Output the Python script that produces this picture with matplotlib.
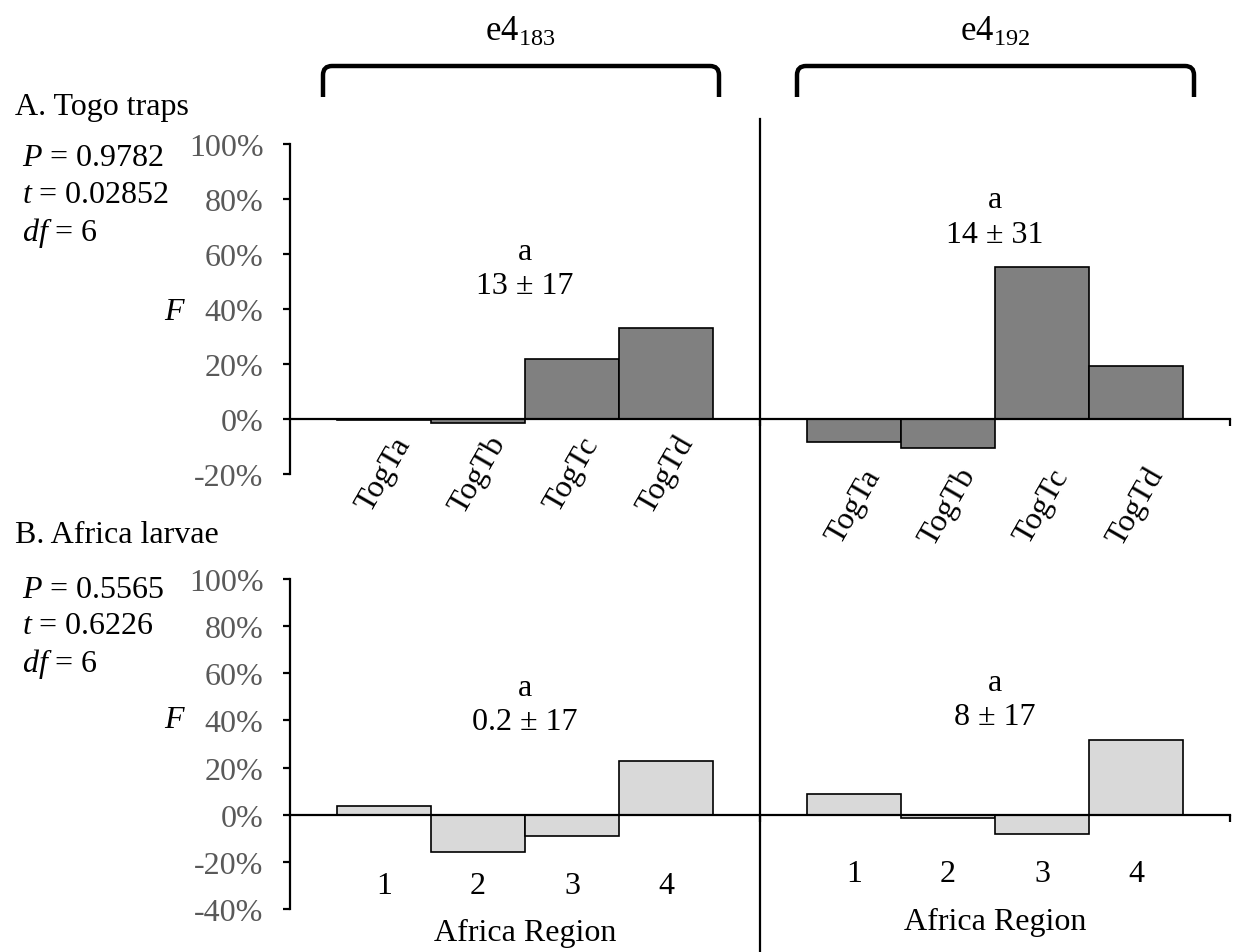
import numpy as np
import matplotlib
matplotlib.use('Agg')
import matplotlib.pyplot as plt
from matplotlib.path import Path
from matplotlib.patches import PathPatch
from matplotlib.lines import Line2D
from matplotlib.ticker import FuncFormatter

plt.rcParams['font.family'] = ['Liberation Serif', 'DejaVu Serif']
plt.rcParams['mathtext.fontset'] = 'custom'
plt.rcParams['mathtext.rm'] = 'Liberation Serif'
plt.rcParams['mathtext.it'] = 'Liberation Serif:italic'

# data (F, in %)
trap_labels = ['TogTa', 'TogTb', 'TogTc', 'TogTd']
trap_e4_183 = [-0.5, -1.5, 22.0, 33.0]
trap_e4_192 = [-8.5, -10.5, 55.3, 19.3]

region_labels = ['1', '2', '3', '4']
larvae_e4_183 = [3.5, -15.7, -8.9, 22.7]
larvae_e4_192 = [9.0, -1.3, -8.0, 31.5]

group_titles = ['183', '192']
trap_notes = ['13 ± 17', '14 ± 31']
larvae_notes = ['0.2 ± 17', '8 ± 17']
trap_stats = ['$P$ = 0.9782', '$t$ = 0.02852', '$df$ = 6']
larvae_stats = ['$P$ = 0.5565', '$t$ = 0.6226', '$df$ = 6']

W, H = 1238, 953
fig = plt.figure(figsize=(W / 100, H / 100), dpi=100)

def fx(x):
    return x / W

def fy(y):
    return 1 - y / H

FS = 23
GREY = '#595959'

left_pos = np.arange(len(trap_labels)) + 1
right_pos = np.arange(len(trap_labels)) + 6


def setup_axes(rect, ymin):
    ax = fig.add_axes(rect)
    ax.set_xlim(0, 10)
    ax.set_ylim(ymin, 100)
    for s in ['top', 'right']:
        ax.spines[s].set_visible(False)
    ax.spines['left'].set_linewidth(1.6)
    ax.spines['bottom'].set_linewidth(1.6)
    ax.spines['bottom'].set_position(('data', 0))
    ax.set_yticks(np.arange(ymin, 101, 20))
    ax.yaxis.set_major_formatter(FuncFormatter(lambda v, p: f'{int(v)}%'))
    ax.tick_params(axis='y', length=5, width=1.6, pad=14, labelsize=FS, labelcolor=GREY)
    ax.set_xticks([5, 10])
    ax.set_xticklabels([])
    ax.tick_params(axis='x', length=5, width=1.6, direction='out')
    ax.patch.set_alpha(0)
    return ax


# A. Togo traps
ax1 = setup_axes([fx(290), fy(475), fx(940), 330 / H], -20)
ax1.bar(left_pos, trap_e4_183, width=1.0, color='#808080', edgecolor='black', linewidth=1.2, zorder=1)
ax1.bar(right_pos, trap_e4_192, width=1.0, color='#808080', edgecolor='black', linewidth=1.2, zorder=1)
for x, lab in zip(left_pos, trap_labels):
    ax1.text(x, -20, lab, rotation=60, ha='center', va='center', fontsize=FS)
for x, lab in zip(right_pos, trap_labels):
    ax1.text(x, -31.5, lab, rotation=60, ha='center', va='center', fontsize=FS)
ax1.text(2.5, 61, 'a', ha='center', va='center', fontsize=FS)
ax1.text(2.5, 48.4, trap_notes[0], ha='center', va='center', fontsize=FS)
ax1.text(7.5, 80, 'a', ha='center', va='center', fontsize=FS)
ax1.text(7.5, 67, trap_notes[1], ha='center', va='center', fontsize=FS)

# B. Africa larvae
ax2 = setup_axes([fx(290), fy(910), fx(940), 330 / H], -40)
ax2.bar(left_pos, larvae_e4_183, width=1.0, color='#d9d9d9', edgecolor='black', linewidth=1.2, zorder=1)
ax2.bar(right_pos, larvae_e4_192, width=1.0, color='#d9d9d9', edgecolor='black', linewidth=1.2, zorder=1)
for x, lab in zip(left_pos, region_labels):
    ax2.text(x, -30, lab, ha='center', va='center', fontsize=FS)
for x, lab in zip(right_pos, region_labels):
    ax2.text(x, -25, lab, ha='center', va='center', fontsize=FS)
ax2.text(2.5, -50, 'Africa Region', ha='center', va='center', fontsize=FS)
ax2.text(7.5, -45.5, 'Africa Region', ha='center', va='center', fontsize=FS)
ax2.text(2.5, 54, 'a', ha='center', va='center', fontsize=FS)
ax2.text(2.5, 39.6, larvae_notes[0], ha='center', va='center', fontsize=FS)
ax2.text(7.5, 56, 'a', ha='center', va='center', fontsize=FS)
ax2.text(7.5, 41.7, larvae_notes[1], ha='center', va='center', fontsize=FS)

# panel labels, stats and F
fig.text(fx(15), fy(108), 'A. Togo traps', ha='left', va='center', fontsize=FS)
fig.text(fx(15), fy(536), 'B. Africa larvae', ha='left', va='center', fontsize=FS)
for i, s in enumerate(trap_stats):
    fig.text(fx(22), fy(158 + 37.5 * i), s, ha='left', va='center', fontsize=FS)
for i, s in enumerate(larvae_stats):
    fig.text(fx(22), fy(590 + 37 * i), s, ha='left', va='center', fontsize=FS)
fig.text(fx(175), fy(312), '$F$', ha='center', va='center', fontsize=FS)
fig.text(fx(175), fy(720), '$F$', ha='center', va='center', fontsize=FS)

# group titles and brackets
for cx, sub in zip([520, 995], group_titles):
    fig.text(fx(cx), fy(32), r'e4$_{%s}$' % sub, ha='center', va='center', fontsize=FS + 2)


def bracket(x0, x1, ytop=67, ybot=98, r=9):
    verts = [(x0, ybot), (x0, ytop + r), (x0, ytop), (x0 + r, ytop),
             (x1 - r, ytop), (x1, ytop), (x1, ytop + r), (x1, ybot)]
    codes = [Path.MOVETO, Path.LINETO, Path.CURVE3, Path.CURVE3,
             Path.LINETO, Path.CURVE3, Path.CURVE3, Path.LINETO]
    verts = [(fx(a), fy(b)) for a, b in verts]
    fig.patches.append(PathPatch(Path(verts, codes), fill=False, lw=3.2,
                                 edgecolor='black', transform=fig.transFigure))


bracket(323, 719)
bracket(797, 1194)

# divider between the two loci
fig.add_artist(Line2D([fx(760), fx(760)], [fy(120), fy(953)], color='black', lw=1.6))

fig.savefig('out.png', dpi=100)
